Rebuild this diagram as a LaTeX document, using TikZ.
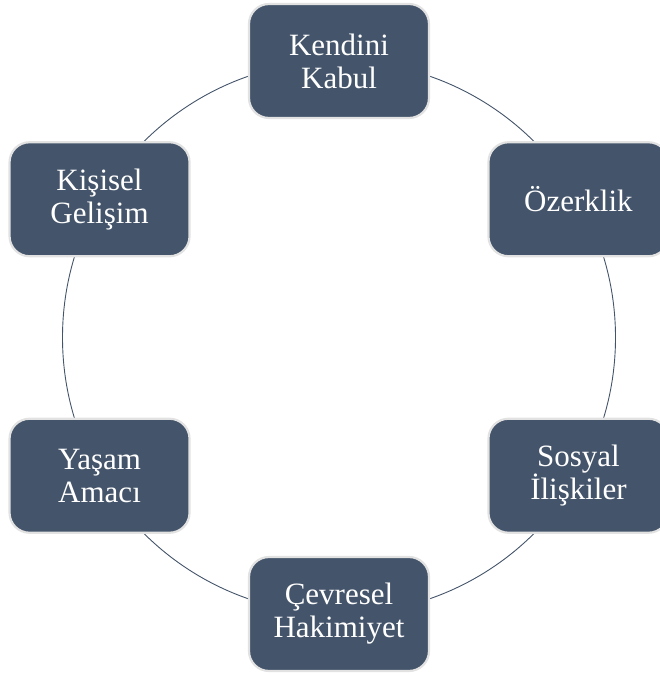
\documentclass[tikz,border=0pt]{standalone}
\usepackage{fontspec}
\setmainfont{Liberation Serif}
\usetikzlibrary{calc, positioning, shapes.misc}
\definecolor{boxfill}{HTML}{44546A}
\definecolor{boxedge}{HTML}{E2E2E2}
\tikzset{
    wellbox/.style={draw=boxedge, line width=2.2pt, fill=boxfill, rounded corners=20pt,
        minimum width=180pt, minimum height=114pt, align=center, text=white,
        font=\fontsize{31}{33}\selectfont},
    ringline/.style={draw=boxfill, line width=0.9pt}
}
\begin{document}
\begin{tikzpicture}[x=1pt, y=1pt]
    \useasboundingbox (0,0) rectangle (660,675);
    % Center of the ring
    \coordinate (O) at (339,337.5);

    % Draw the ring behind the boxes
    \draw[ringline] (O) circle (276.5);

    % Place the six boxes around the ring
    \node[wellbox] (kabul) at ($(O)+(90:276.5)$) {Kendini\\Kabul};
    \node[wellbox] (ozerk) at ($(O)+(30:276.5)$) {Özerklik};
    \node[wellbox] (sosyal) at ($(O)+(-30:276.5)$) {Sosyal\\İlişkiler};
    \node[wellbox] (cevre) at ($(O)+(-90:276.5)$) {Çevresel\\Hakimiyet};
    \node[wellbox] (amac) at ($(O)+(-150:276.5)$) {Yaşam\\Amacı};
    \node[wellbox] (gelisim) at ($(O)+(150:276.5)$) {Kişisel\\Gelişim};
\end{tikzpicture}
\end{document}
